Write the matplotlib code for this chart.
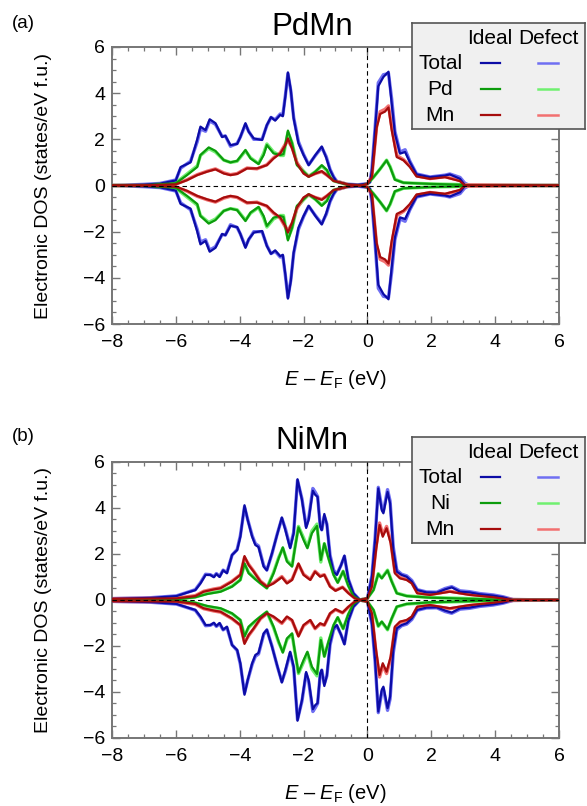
import numpy as np
import matplotlib
matplotlib.use("Agg")
import matplotlib.pyplot as plt
from matplotlib.ticker import MultipleLocator

plt.rcParams['font.family'] = ['Liberation Sans', 'DejaVu Sans']
plt.rcParams['mathtext.fontset'] = 'custom'
plt.rcParams['mathtext.rm'] = 'Liberation Sans'
plt.rcParams['mathtext.it'] = 'Liberation Sans:italic'

# ---- PdMn (spin up; spin down is the mirror image) ----
pdmn_total_e = [-8.0, -7.0, -6.5, -6.0, -5.85, -5.54, -5.33, -5.23, -5.07, -4.94, -4.76, -4.55, -4.45, -4.29, -4.08,
                -3.98, -3.82, -3.72, -3.56, -3.30, -3.15, -3.02, -2.89, -2.73, -2.65, -2.57, -2.49, -2.40, -2.31, -2.16,
                -2.00, -1.84, -1.63, -1.43, -1.29, -1.17, -1.06, -0.96, -0.65, -0.30, 0.00, 0.08, 0.14, 0.24, 0.34,
                0.50, 0.66, 0.76, 0.86, 1.02, 1.18, 1.33, 1.54, 1.96, 2.43, 2.58, 2.90, 3.05, 3.20, 6.0]
pdmn_total_ideal = [0.0, 0.04, 0.08, 0.22, 0.8, 1.0, 2.0, 2.55, 2.4, 2.87, 2.7, 2.1, 2.15, 1.75, 1.8,
                    2.1, 2.7, 2.33, 2.04, 1.97, 2.62, 2.96, 2.81, 3.06, 3.0, 3.86, 4.9, 4.14, 2.9, 1.83,
                    1.32, 0.88, 1.32, 1.69, 1.2, 0.67, 0.36, 0.16, 0.06, 0.03, 0.08, 0.14, 0.65, 2.4, 4.3,
                    4.7, 4.93, 3.55, 2.25, 1.38, 1.45, 1.01, 0.48, 0.36, 0.43, 0.48, 0.29, 0.02, 0.0, 0.0]
pdmn_total_defect = [0.0, 0.05, 0.09, 0.24, 0.75, 1.05, 1.9, 2.45, 2.35, 2.8, 2.65, 2.12, 2.15, 1.7, 1.82,
                     2.1, 2.65, 2.35, 2.0, 2.0, 2.6, 2.95, 2.85, 3.1, 3.05, 3.9, 4.85, 4.1, 2.95, 1.9,
                     1.35, 0.9, 1.3, 1.65, 1.25, 0.7, 0.38, 0.18, 0.06, 0.03, 0.08, 0.16, 0.7, 2.5, 4.45,
                     4.8, 4.85, 3.75, 2.35, 1.45, 1.55, 1.05, 0.5, 0.37, 0.45, 0.5, 0.35, 0.1, 0.0, 0.0]

pdmn_pd_e = [-8.0, -7.0, -6.0, -5.65, -5.33, -5.23, -4.97, -4.76, -4.50, -4.29, -4.08, -3.82, -3.66, -3.41,
             -3.25, -3.15, -2.94, -2.73, -2.63, -2.49, -2.36, -2.21, -2.00, -1.84, -1.63, -1.43, -1.27, -1.17,
             -1.06, -0.60, -0.20, 0.00, 0.19, 0.40, 0.60, 0.71, 0.86, 1.13, 1.96, 3.00, 3.20, 6.0]
pdmn_pd_ideal = [0.0, 0.01, 0.1, 0.45, 0.8, 1.32, 1.65, 1.5, 1.1, 1.0, 1.07, 1.54, 1.17, 0.93,
                 1.32, 1.75, 1.39, 1.32, 1.36, 2.38, 1.83, 0.88, 0.6, 0.38, 0.6, 0.88, 0.67, 0.36,
                 0.2, 0.03, 0.0, 0.07, 0.36, 0.72, 1.09, 0.8, 0.25, 0.12, 0.07, 0.03, 0.0, 0.0]
pdmn_pd_defect = [0.0, 0.01, 0.12, 0.5, 0.85, 1.3, 1.6, 1.45, 1.1, 1.0, 1.05, 1.5, 1.2, 0.95,
                  1.4, 1.8, 1.45, 1.3, 1.3, 2.3, 1.85, 0.95, 0.62, 0.4, 0.6, 0.85, 0.65, 0.38,
                  0.2, 0.03, 0.0, 0.07, 0.36, 0.72, 1.1, 0.82, 0.27, 0.12, 0.07, 0.04, 0.0, 0.0]

pdmn_mn_e = [-8.0, -7.0, -6.0, -5.65, -5.33, -5.02, -4.76, -4.50, -4.29, -4.08, -3.77, -3.46, -3.15, -2.94,
             -2.73, -2.57, -2.49, -2.36, -2.21, -2.00, -1.84, -1.63, -1.43, -1.27, -1.06, -0.60, -0.20, 0.00,
             0.14, 0.29, 0.40, 0.55, 0.66, 0.76, 0.92, 1.13, 1.33, 1.54, 1.96, 2.43, 2.90, 3.05, 6.0]
pdmn_mn_ideal = [0.0, 0.01, 0.05, 0.23, 0.45, 0.6, 0.7, 0.52, 0.45, 0.5, 0.74, 0.74, 0.88, 1.17,
                 1.39, 1.75, 2.04, 1.6, 0.96, 0.52, 0.38, 0.52, 0.62, 0.45, 0.2, 0.04, 0.0, 0.07,
                 0.36, 2.5, 3.1, 3.2, 3.38, 2.4, 1.23, 1.09, 0.8, 0.39, 0.29, 0.36, 0.19, 0.0, 0.0]
pdmn_mn_defect = [0.0, 0.01, 0.06, 0.25, 0.47, 0.62, 0.72, 0.55, 0.47, 0.52, 0.76, 0.72, 0.9, 1.2,
                  1.42, 1.8, 1.95, 1.65, 1.0, 0.55, 0.4, 0.52, 0.6, 0.45, 0.22, 0.04, 0.0, 0.07,
                  0.4, 2.6, 3.2, 3.3, 3.45, 2.55, 1.3, 1.12, 0.85, 0.42, 0.3, 0.38, 0.22, 0.03, 0.0]

# ---- NiMn ----
nimn_total_e = [-8.0, -6.79, -5.98, -5.65, -5.39, -5.23, -5.07, -4.92, -4.81, -4.73, -4.63, -4.52, -4.40, -4.24,
                -4.08, -3.98, -3.85, -3.75, -3.61, -3.51, -3.41, -3.25, -3.15, -2.99, -2.83, -2.68, -2.57, -2.42,
                -2.31, -2.19, -2.05, -1.92, -1.84, -1.71, -1.64, -1.56, -1.48, -1.43, -1.35, -1.27, -1.17, -1.06,
                -0.96, -0.83, -0.72, -0.60, -0.44, -0.24, 0.00, 0.14, 0.24, 0.34, 0.45, 0.50, 0.63, 0.71, 0.81,
                0.92, 1.07, 1.23, 1.39, 1.56, 1.85, 2.17, 2.43, 2.64, 2.90, 3.21, 3.52, 3.94, 4.25, 4.56, 6.0]
nimn_total_ideal = [0.05, 0.09, 0.17, 0.32, 0.43, 0.72, 1.09, 1.09, 0.99, 1.13, 1.0, 1.29, 1.16, 1.96,
                    2.17, 2.75, 4.12, 3.48, 2.75, 2.39, 2.3, 1.45, 1.29, 2.03, 2.83, 3.59, 3.04, 2.25,
                    2.9, 5.25, 4.35, 3.13, 3.5, 4.75, 4.58, 4.48, 3.19, 3.04, 3.74, 3.28, 1.88, 1.23,
                    1.09, 1.5, 1.93, 0.9, 0.29, 0.0, 0.07, 1.0, 2.6, 4.85, 3.9, 3.77, 4.7, 4.2, 2.17,
                    1.23, 1.09, 1.01, 0.8, 0.43, 0.33, 0.32, 0.46, 0.55, 0.36, 0.33, 0.25, 0.19, 0.12, 0.0, 0.0]
nimn_total_defect = [0.06, 0.1, 0.18, 0.33, 0.45, 0.75, 1.12, 1.1, 1.02, 1.15, 1.03, 1.3, 1.2, 1.95,
                     2.2, 2.8, 4.05, 3.5, 2.8, 2.45, 2.35, 1.5, 1.3, 2.0, 2.85, 3.55, 3.1, 2.3,
                     2.95, 5.2, 4.4, 3.2, 3.55, 4.85, 4.7, 4.5, 3.25, 3.05, 3.65, 3.3, 1.95, 1.3,
                     1.12, 1.5, 1.9, 0.92, 0.3, 0.0, 0.07, 1.05, 2.7, 4.9, 4.0, 3.85, 4.8, 4.3, 2.3,
                     1.3, 1.12, 1.05, 0.85, 0.45, 0.35, 0.34, 0.5, 0.58, 0.4, 0.36, 0.28, 0.22, 0.14, 0.02, 0.0]

nimn_ni_e = [-8.0, -5.98, -5.39, -5.02, -4.60, -4.24, -3.98, -3.85, -3.72, -3.51, -3.35, -3.15, -2.94, -2.78,
             -2.65, -2.52, -2.36, -2.28, -2.16, -2.00, -1.88, -1.74, -1.58, -1.53, -1.46, -1.35, -1.22, -1.06,
             -0.93, -0.76, -0.60, -0.44, -0.24, 0.00, 0.19, 0.34, 0.45, 0.63, 0.76, 0.92, 1.23, 1.96, 3.00,
             4.56, 6.0]
nimn_ni_ideal = [0.02, 0.03, 0.12, 0.26, 0.36, 0.58, 0.87, 1.59, 1.16, 0.9, 0.72, 0.51, 1.16, 1.81,
                 2.29, 1.67, 1.45, 2.17, 3.16, 2.61, 2.25, 2.9, 3.22, 2.61, 1.74, 2.46, 1.81, 1.09,
                 0.75, 1.25, 0.62, 0.17, 0.0, 0.07, 0.43, 1.13, 0.94, 1.28, 0.8, 0.29, 0.17, 0.1, 0.06,
                 0.0, 0.0]
nimn_ni_defect = [0.02, 0.03, 0.13, 0.28, 0.38, 0.6, 0.88, 1.55, 1.2, 0.92, 0.74, 0.52, 1.2, 1.85,
                  2.25, 1.72, 1.5, 2.2, 3.2, 2.7, 2.3, 3.0, 3.3, 2.55, 1.65, 2.45, 1.85, 1.12,
                  0.77, 1.25, 0.64, 0.18, 0.0, 0.07, 0.45, 1.15, 0.96, 1.3, 0.82, 0.3, 0.18, 0.11, 0.07,
                  0.0, 0.0]

nimn_mn_e = [-8.0, -5.98, -5.39, -5.13, -4.81, -4.60, -4.24, -3.98, -3.85, -3.72, -3.56, -3.35, -3.15, -2.94,
             -2.68, -2.52, -2.36, -2.16, -2.00, -1.79, -1.64, -1.48, -1.35, -1.17, -1.00, -0.78, -0.60, -0.40,
             -0.24, 0.00, 0.14, 0.27, 0.38, 0.48, 0.60, 0.73, 0.86, 1.02, 1.23, 1.39, 1.56, 1.96, 2.58, 3.21,
             3.94, 4.56, 6.0]
nimn_mn_ideal = [0.05, 0.07, 0.17, 0.36, 0.46, 0.51, 0.8, 1.09, 1.91, 1.52, 1.23, 0.8, 0.58, 0.72,
                 0.99, 0.72, 0.87, 1.59, 1.09, 0.87, 1.23, 1.01, 1.09, 0.58, 0.4, 0.55, 0.3, 0.08,
                 0.0, 0.07, 0.58, 2.17, 3.26, 2.75, 3.12, 2.46, 1.16, 0.94, 0.87, 0.72, 0.29, 0.22, 0.36, 0.22,
                 0.12, 0.0, 0.0]
nimn_mn_defect = [0.06, 0.08, 0.19, 0.38, 0.48, 0.53, 0.82, 1.1, 1.85, 1.55, 1.25, 0.82, 0.6, 0.75,
                  1.02, 0.75, 0.9, 1.55, 1.12, 0.9, 1.25, 1.05, 1.1, 0.6, 0.42, 0.56, 0.32, 0.08,
                  0.0, 0.07, 0.62, 2.3, 3.35, 2.85, 3.2, 2.55, 1.22, 0.98, 0.9, 0.75, 0.32, 0.24, 0.38, 0.24,
                  0.14, 0.02, 0.0]

ideal_colors = ['#0c0ca6', '#0c9c0c', '#a60c0c']
defect_colors = ['#6f6ff2', '#70f070', '#f27070']
spine_gray = '#767676'


def draw_panel(ax, curves):
    for (e, ideal, defect), c_i, c_d in zip(curves, ideal_colors, defect_colors):
        e = np.array(e)
        for sign in (1, -1):
            ax.plot(e, sign * np.array(defect), color=c_d, lw=2.4, solid_joinstyle='round', zorder=2)
    for (e, ideal, defect), c_i, c_d in zip(curves, ideal_colors, defect_colors):
        e = np.array(e)
        for sign in (1, -1):
            ax.plot(e, sign * np.array(ideal), color=c_i, lw=1.6, solid_joinstyle='round', zorder=3)
    ax.axhline(0, color='k', lw=0.8, ls=(0, (4, 3)), zorder=4)
    ax.axvline(0, color='k', lw=0.8, ls=(0, (4, 3)), zorder=4)
    ax.set_xlim(-8, 6)
    ax.set_ylim(-6, 6)
    ax.xaxis.set_major_locator(MultipleLocator(2))
    ax.xaxis.set_minor_locator(MultipleLocator(0.5))
    ax.yaxis.set_major_locator(MultipleLocator(2))
    ax.yaxis.set_minor_locator(MultipleLocator(0.5))
    ax.tick_params(which='both', direction='in', top=True, right=True, color=spine_gray, labelsize=14)
    ax.tick_params(which='major', length=5.5, width=1.0)
    ax.tick_params(which='minor', length=2.8, width=0.9)
    ax.tick_params(axis='x', pad=7)
    ax.tick_params(axis='y', pad=5)
    for sp in ax.spines.values():
        sp.set_color(spine_gray)
        sp.set_linewidth(1.4)
    ax.set_xlabel(r'$E$ – $E_{\mathrm{F}}$ (eV)', fontsize=14.5)
    ax.xaxis.set_label_coords(0.5, -0.16)
    ax.set_ylabel('Electronic DOS (states/eV f.u.)', fontsize=14)
    ax.yaxis.set_label_coords(-0.135, 0.5)


def draw_legend(fig, rect, element):
    lg = fig.add_axes(rect, zorder=10)
    lg.set_facecolor('#f0f0f0')
    lg.set_xlim(0, 1)
    lg.set_ylim(0, 1)
    lg.set_xticks([])
    lg.set_yticks([])
    for sp in lg.spines.values():
        sp.set_color('#555555')
        sp.set_linewidth(1.2)
    lg.text(0.448, 0.85, 'Ideal', ha='center', va='center', fontsize=15)
    lg.text(0.79, 0.85, 'Defect', ha='center', va='center', fontsize=15)
    rows = ['Total', element, 'Mn']
    ys = [0.62, 0.375, 0.13]
    for name, y, c_i, c_d in zip(rows, ys, ideal_colors, defect_colors):
        lg.text(0.162, y, name, ha='center', va='center', fontsize=15)
        lg.plot([0.40, 0.51], [y, y], color=c_i, lw=1.6)
        lg.plot([0.73, 0.84], [y, y], color=c_d, lw=1.8)


fig = plt.figure(figsize=(5.87, 8.06), dpi=100)
ax_a = fig.add_axes([0.1908, 0.598, 0.7615, 0.3437])
ax_b = fig.add_axes([0.1908, 0.0844, 0.7615, 0.3424])

draw_panel(ax_a, [(pdmn_total_e, pdmn_total_ideal, pdmn_total_defect),
                  (pdmn_pd_e, pdmn_pd_ideal, pdmn_pd_defect),
                  (pdmn_mn_e, pdmn_mn_ideal, pdmn_mn_defect)])
draw_panel(ax_b, [(nimn_total_e, nimn_total_ideal, nimn_total_defect),
                  (nimn_ni_e, nimn_ni_ideal, nimn_ni_defect),
                  (nimn_mn_e, nimn_mn_ideal, nimn_mn_defect)])

fig.text(312 / 587, 1 - 35 / 806, 'PdMn', ha='center', va='baseline', fontsize=22.5)
fig.text(312 / 587, 1 - 449 / 806, 'NiMn', ha='center', va='baseline', fontsize=22.5)
fig.text(12 / 587, 1 - 23 / 806, '(a)', ha='left', va='center', fontsize=13.5)
fig.text(12 / 587, 1 - 437 / 806, '(b)', ha='left', va='center', fontsize=13.5)

draw_legend(fig, [412 / 587, 1 - 129 / 806, 1 - 412 / 587 - 0.003, 106 / 806], 'Pd')
draw_legend(fig, [412 / 587, 1 - 543 / 806, 1 - 412 / 587 - 0.003, 106 / 806], 'Ni')

fig.savefig('out.png', dpi=100)
